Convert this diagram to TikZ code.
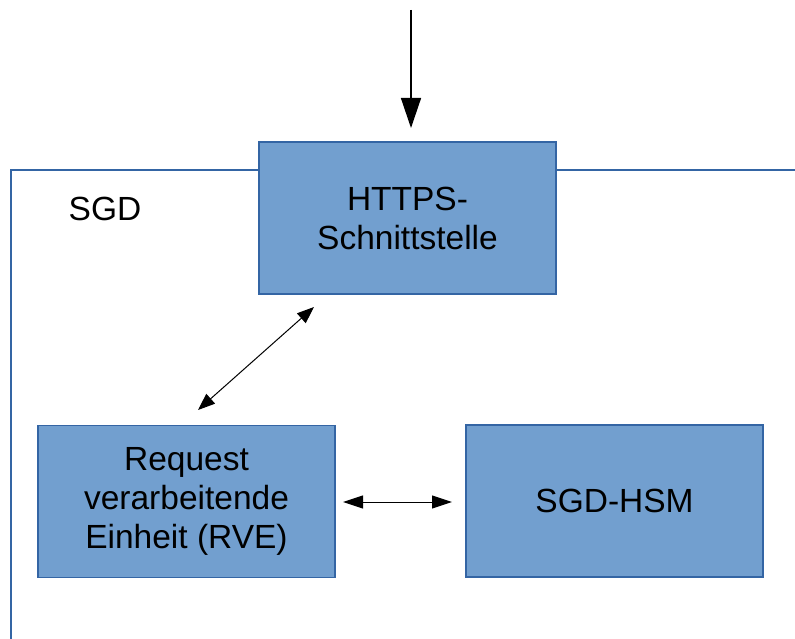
\documentclass[tikz,border=0pt]{standalone}
\usepackage{fontspec}
\setmainfont{Liberation Sans}
\usetikzlibrary{arrows.meta}
\definecolor{boxfill}{HTML}{729FCF}
\definecolor{boxline}{HTML}{3465A4}
\tikzset{
  blockbox/.style={draw=boxline, line width=1.1pt, fill=boxfill, minimum width=297pt, minimum height=152pt, align=center, inner sep=0pt, font=\fontsize{33.5}{39}\selectfont},
  frameline/.style={draw=boxline, line width=1.3pt},
  conn/.style={draw=black, line width=1pt},
}
\begin{document}
\begin{tikzpicture}[x=1pt,y=-1pt]
\useasboundingbox (0,0) rectangle (795,639);
\coordinate (frTR) at (796,170);
\coordinate (frTL) at (11,170);
\coordinate (frBL) at (11,640);
\draw[frameline] (frTR) -- (frTL) -- (frBL);
\node[font=\fontsize{33.5}{39}\selectfont, anchor=base] (sgd) at (105,221) {SGD};
\node[blockbox] (https) at (407.5,218) {HTTPS-\\Schnittstelle};
\node[blockbox] (rve) at (186.5,501.5) {Request\\verarbeitende\\Einheit (RVE)};
\node[blockbox] (hsm) at (614.5,501) {SGD-HSM};
\coordinate (topin) at (411,10);
\coordinate (topout) at (411,128);
\draw[conn, line width=1.4pt, -{Triangle[length=30pt,width=20pt]}] (topin) -- (topout);
\coordinate (dA) at (198,410);
\coordinate (dB) at (314,307);
\draw[conn, {Triangle[length=17pt,width=13pt]}-{Triangle[length=17pt,width=13pt]}] (dA) -- (dB);
\coordinate (hA) at (343,502);
\coordinate (hB) at (452,502);
\draw[conn, {Triangle[length=20pt,width=13pt]}-{Triangle[length=20pt,width=13pt]}] (hA) -- (hB);
\end{tikzpicture}
\end{document}
